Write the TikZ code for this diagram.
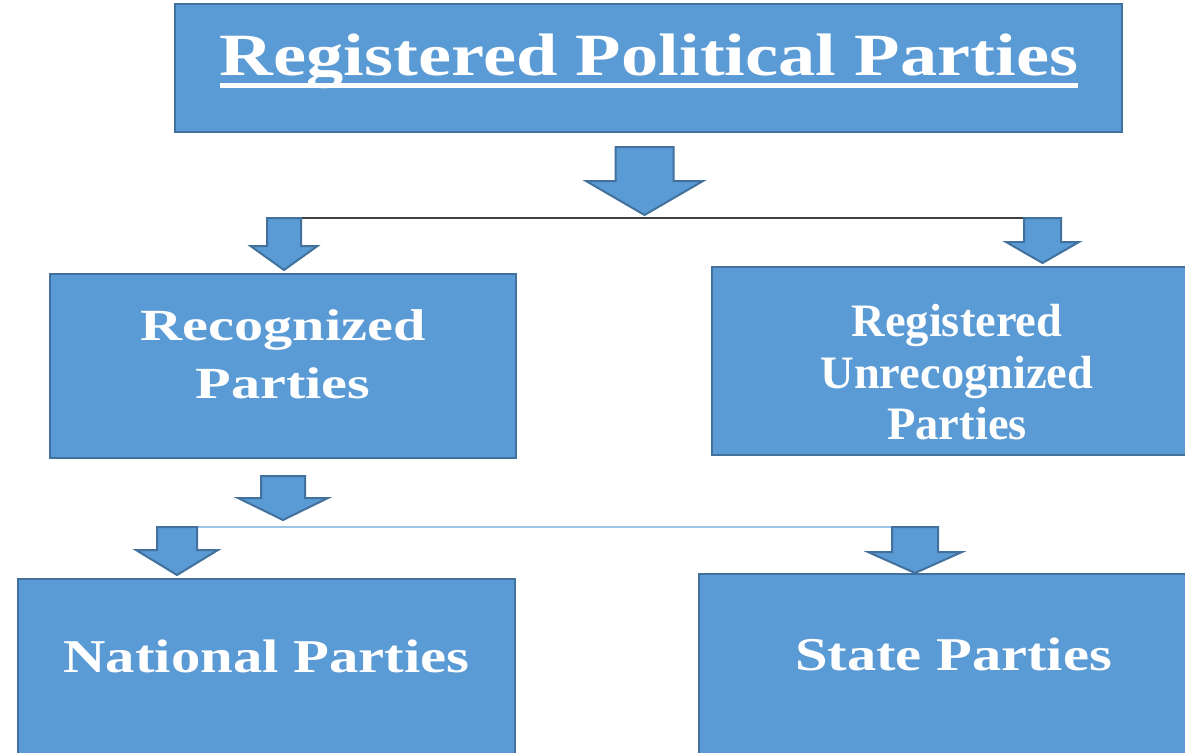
\documentclass[tikz,border=0pt]{standalone}
\usepackage{fontspec}
\setmainfont{Liberation Serif}
\definecolor{boxfill}{HTML}{5B9BD5}
\definecolor{boxline}{HTML}{41719C}
\definecolor{darkline}{HTML}{404040}
\definecolor{lightline}{HTML}{9DC3E6}
\tikzset{
  box/.style={draw=boxline, fill=boxfill, line width=2.5pt, rectangle, inner sep=0pt},
  arr/.style={draw=boxline, fill=boxfill, line width=2pt, line join=miter},
  lbl/.style={text=white, anchor=base, inner sep=0pt, font=\bfseries},
}
\newcommand\blockarr[7]{%
  \draw[arr] ({#1-#2},#4) -- ({#1+#2},#4) -- ({#1+#2},#5) -- ({#1+#3},#5) -- (#1,#6)
    -- ({#1-#3},#5) -- ({#1-#2},#5) -- cycle;
  \coordinate (#7) at (#1,#6);}
\begin{document}
\begin{tikzpicture}[x=1pt,y=-1pt]
\useasboundingbox (0,0) rectangle (1185,752);
\clip (0,0) rectangle (1185,752);
\fill[white] (0,0) rectangle (1185,752);
% boxes
\node[box, minimum width=947pt, minimum height=128pt] (top) at (648.5,68) {};
\node[box, minimum width=466pt, minimum height=184pt] (rec) at (283,366) {};
\node[box, minimum width=490pt, minimum height=188pt] (unrec) at (957,361) {};
\node[box, minimum width=497pt, minimum height=221pt] (nat) at (266.5,689.5) {};
\node[box, minimum width=509pt, minimum height=226pt] (state) at (953.5,687) {};
% texts
\node[lbl, font=\bfseries\fontsize{60}{72}\selectfont\addfontfeatures{FakeStretch=1.24}] (title) at (649,75) {Registered Political Parties};
\draw[white, line width=5pt] (220,85) -- (1078,85);
\node[lbl, font=\bfseries\fontsize{44.5}{55}\selectfont\addfontfeatures{FakeStretch=1.31}] (rec1) at (283,340) {Recognized};
\node[lbl, font=\bfseries\fontsize{44.5}{55}\selectfont\addfontfeatures{FakeStretch=1.31}] (rec2) at (283,398) {Parties};
\node[lbl, font=\bfseries\fontsize{46.5}{55}\selectfont] (un1) at (957,336) {Registered};
\node[lbl, font=\bfseries\fontsize{46.5}{55}\selectfont] (un2) at (957,388) {Unrecognized};
\node[lbl, font=\bfseries\fontsize{46.5}{55}\selectfont] (un3) at (957,439) {Parties};
\node[lbl, font=\bfseries\fontsize{47}{56}\selectfont\addfontfeatures{FakeStretch=1.25}] (nat1) at (266.5,672) {National Parties};
\node[lbl, font=\bfseries\fontsize{47}{56}\selectfont\addfontfeatures{FakeStretch=1.245}] (st1) at (953.5,670) {State Parties};
% connector lines
\coordinate (l1a) at (300,218);
\coordinate (l1b) at (1025,218);
\coordinate (l2a) at (196,527);
\coordinate (l2b) at (938,527);
\draw[darkline, line width=2pt] (l1a) -- (l1b);
\draw[lightline, line width=2.5pt] (l2a) -- (l2b);
% block arrows: cx, shaft hw, head hw, top, base, tip, name
\blockarr{644.5}{29}{58.5}{147}{181}{215}{a0}
\blockarr{284}{17}{33.5}{218}{246}{270}{a1}
\blockarr{1042.5}{18.5}{36.5}{218}{242}{263}{a2}
\blockarr{283}{22}{45}{476}{498}{520}{a3}
\blockarr{177}{20}{41}{527}{550}{575}{a4}
\blockarr{915}{23}{47}{527}{552}{573}{a5}
\end{tikzpicture}
\end{document}
